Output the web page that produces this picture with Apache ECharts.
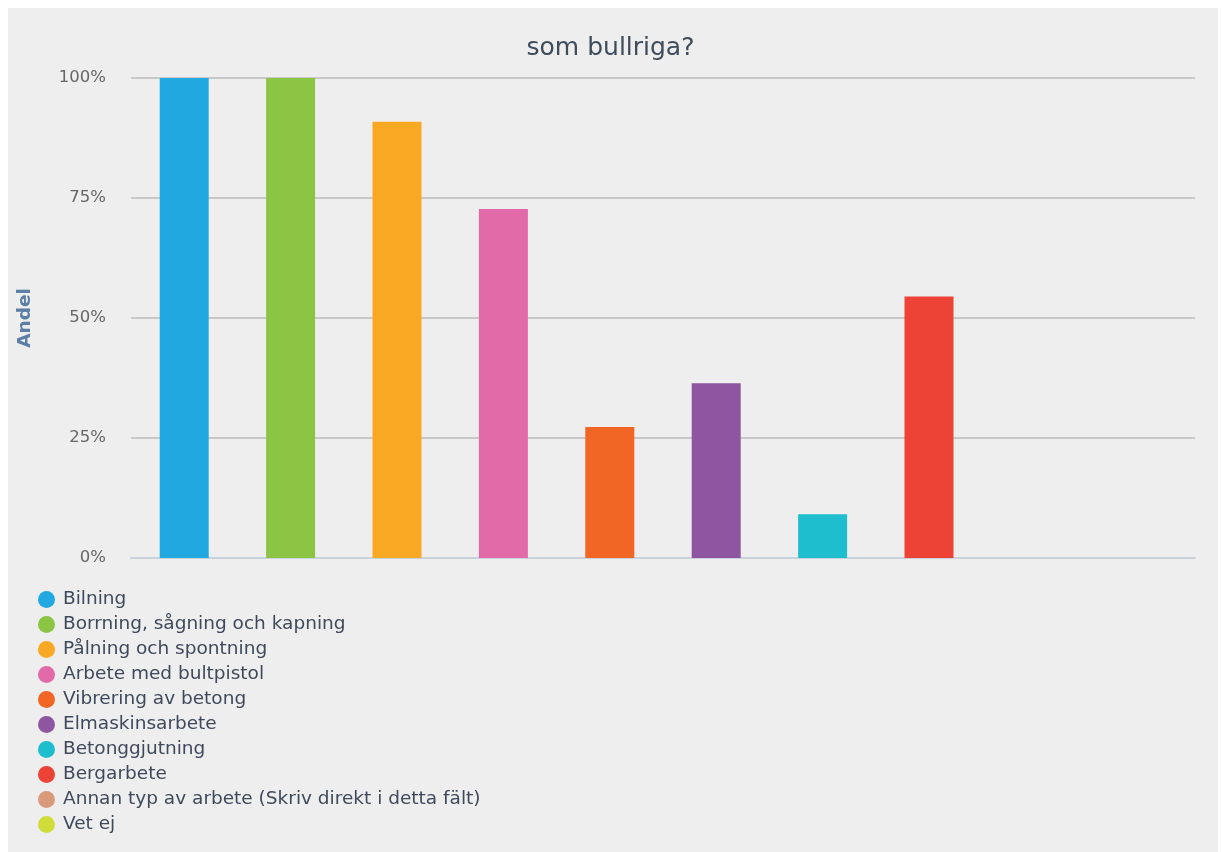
<!DOCTYPE html>
<html>
<head>
<meta charset="utf-8">
<script src="https://cdn.jsdelivr.net/npm/echarts@6/dist/echarts.min.js"></script>
<style>
html,body{margin:0;padding:0;background:#ffffff;}
#chart{width:1221px;height:852px;}
</style>
</head>
<body>
<div id="chart"></div>
<script>
const categories = [
  "Bilning",
  "Borrning, sågning och kapning",
  "Pålning och spontning",
  "Arbete med bultpistol",
  "Vibrering av betong",
  "Elmaskinsarbete",
  "Betonggjutning",
  "Bergarbete",
  "Annan typ av arbete (Skriv direkt i detta fält)",
  "Vet ej"
];
const values = [100, 100, 90.9, 72.7, 27.3, 36.4, 9.1, 54.5, 0, 0];
const colors = ["#22a8e1", "#8cc543", "#f9a823", "#e36aa9", "#f16624", "#8e55a1", "#1ebece", "#ec4336", "#d99a7c", "#cfdc3a"];
const yTicks = [0, 25, 50, 75, 100];

const series = categories.map(function (name, i) {
  const d = categories.map(function (_, j) { return j === i ? values[i] : '-'; });
  return {
    name: name,
    type: 'bar',
    stack: 'all',
    barWidth: 49,
    data: d,
    itemStyle: { color: colors[i] }
  };
});

const chart = echarts.init(document.getElementById('chart'), null, { renderer: 'canvas' });
chart.setOption({
  backgroundColor: '#ffffff',
  animation: false,
  color: colors,
  graphic: [{
    type: 'rect',
    z: -100,
    silent: true,
    shape: { x: 8, y: 8, width: 1210, height: 844 },
    style: { fill: '#eeeeee' }
  }],
  title: {
    text: 'som bullriga?',
    left: 'center',
    top: 31,
    textStyle: { fontFamily: 'DejaVu Sans', fontSize: 25, fontWeight: 'normal', color: '#3e4c5b' }
  },
  legend: {
    orient: 'vertical',
    left: 38,
    top: 590,
    icon: 'circle',
    itemWidth: 17,
    itemHeight: 17,
    itemGap: 6,
    padding: 0,
    data: categories,
    textStyle: { fontFamily: 'DejaVu Sans', fontSize: 18.5, lineHeight: 17, color: '#3e4a5c', padding: [0, 0, 0, 3] }
  },
  grid: { left: 131, right: 26, top: 78, bottom: 294, containLabel: false },
  xAxis: {
    type: 'category',
    data: categories,
    axisLabel: { show: false },
    axisLine: { lineStyle: { color: '#c8d2dc', width: 2 } },
    axisTick: { alignWithLabel: true, length: 6, lineStyle: { color: '#b8c0c8', width: 1 } },
    splitLine: { show: false }
  },
  yAxis: {
    type: 'value',
    min: yTicks[0],
    max: yTicks[yTicks.length - 1],
    interval: 25,
    name: 'Andel',
    nameLocation: 'middle',
    nameGap: 96,
    nameRotate: 90,
    nameTextStyle: { fontFamily: 'DejaVu Sans', fontSize: 18.5, fontWeight: 'bold', color: '#5a7ea6' },
    axisLine: { show: false },
    axisTick: { show: false },
    axisLabel: {
      formatter: '{value}%',
      margin: 25,
      fontFamily: 'DejaVu Sans',
      fontSize: 16.5,
      color: '#666666'
    },
    splitLine: { lineStyle: { color: '#c8c8c8', width: 2 } }
  },
  series: series
});
</script>
</body>
</html>
